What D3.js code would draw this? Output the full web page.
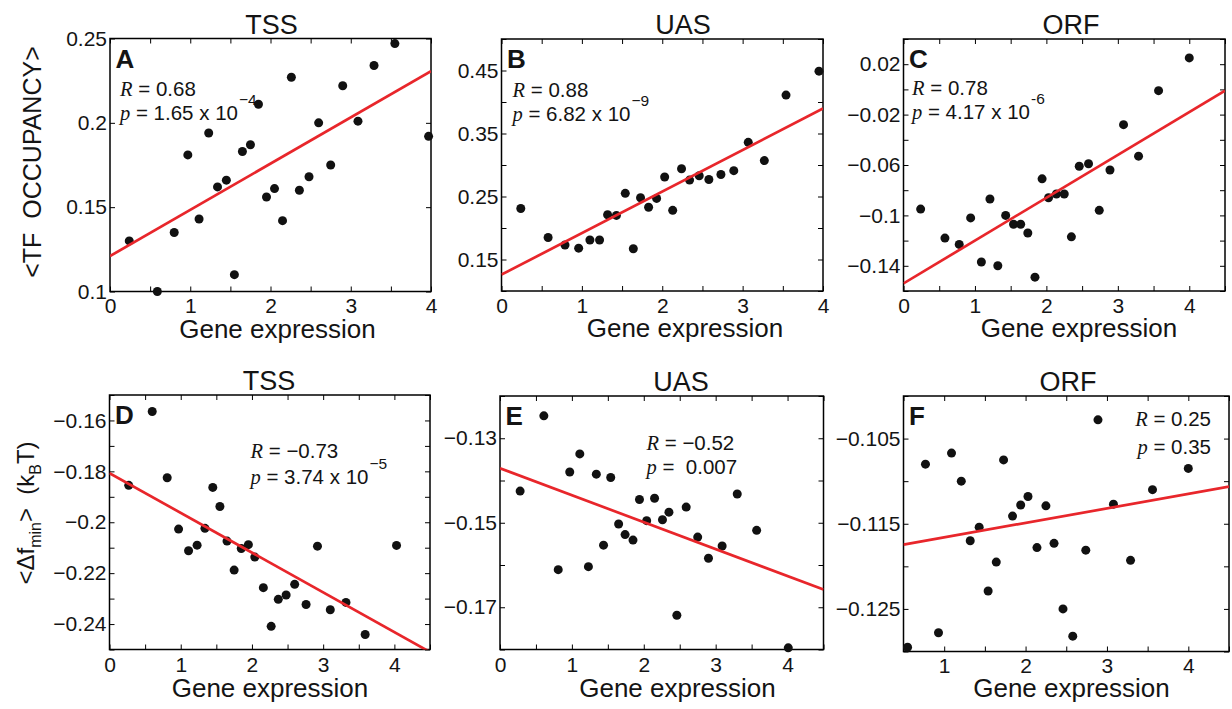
<!DOCTYPE html>
<html>
<head>
<meta charset="utf-8">
<script src="https://cdn.jsdelivr.net/npm/d3@7"></script>
<style>
  body { margin: 0; background: #fff; }
  text { font-family: "Liberation Sans", Arial, Helvetica, sans-serif; fill: #141414; }
</style>
</head>
<body>
<div id="chart"></div>
<script>
// gene expression (x) and response (y) for each panel
const occTssX = [0.24, 0.59, 0.8, 0.97, 1.11, 1.23, 1.34, 1.45, 1.55, 1.65, 1.75, 1.85, 1.95, 2.05, 2.15, 2.26, 2.36, 2.48, 2.6, 2.75, 2.9, 3.09, 3.29, 3.55, 3.97];
const occTssY = [0.130, 0.100, 0.135, 0.181, 0.143, 0.194, 0.162, 0.166, 0.110, 0.183, 0.187, 0.211, 0.156, 0.161, 0.142, 0.227, 0.160, 0.168, 0.200, 0.175, 0.222, 0.201, 0.234, 0.247, 0.192];

const occUasX = [0.24, 0.58, 0.79, 0.96, 1.1, 1.22, 1.32, 1.43, 1.54, 1.64, 1.73, 1.83, 1.93, 2.03, 2.13, 2.24, 2.34, 2.46, 2.58, 2.73, 2.89, 3.07, 3.27, 3.54, 3.95];
const occUasY = [0.231, 0.185, 0.173, 0.168, 0.181, 0.181, 0.221, 0.220, 0.255, 0.167, 0.248, 0.233, 0.247, 0.281, 0.228, 0.294, 0.276, 0.283, 0.277, 0.285, 0.291, 0.336, 0.307, 0.411, 0.449];

const occOrfX = [0.24, 0.58, 0.78, 0.94, 1.09, 1.21, 1.32, 1.43, 1.54, 1.64, 1.74, 1.84, 1.94, 2.03, 2.14, 2.25, 2.35, 2.46, 2.59, 2.74, 2.89, 3.08, 3.29, 3.57, 4.0];
const occOrfY = [-0.095, -0.118, -0.123, -0.102, -0.137, -0.087, -0.140, -0.100, -0.107, -0.107, -0.114, -0.149, -0.071, -0.086, -0.083, -0.083, -0.117, -0.061, -0.059, -0.096, -0.064, -0.028, -0.053, -0.001, 0.025];

const dfTssX = [0.27, 0.6, 0.81, 0.97, 1.11, 1.23, 1.34, 1.45, 1.55, 1.65, 1.75, 1.85, 1.95, 2.04, 2.16, 2.27, 2.37, 2.48, 2.6, 2.76, 2.92, 3.1, 3.32, 3.59, 4.03];
const dfTssY = [-0.1855, -0.1565, -0.1825, -0.2027, -0.2112, -0.209, -0.2024, -0.1863, -0.1938, -0.2074, -0.2188, -0.2103, -0.2088, -0.2137, -0.2257, -0.2409, -0.2303, -0.2286, -0.2244, -0.2323, -0.2094, -0.2344, -0.2315, -0.2441, -0.2091];

const dfUasX = [0.28, 0.61, 0.81, 0.97, 1.11, 1.23, 1.34, 1.44, 1.54, 1.65, 1.74, 1.85, 1.94, 2.04, 2.15, 2.26, 2.35, 2.46, 2.59, 2.75, 2.9, 3.09, 3.3, 3.57, 4.01];
const dfUasY = [-0.1425, -0.1247, -0.1611, -0.138, -0.1337, -0.1604, -0.1385, -0.1553, -0.1393, -0.1503, -0.1528, -0.1541, -0.1445, -0.1495, -0.1442, -0.1493, -0.1475, -0.1719, -0.1463, -0.1534, -0.1584, -0.1555, -0.1432, -0.1518, -0.1796];

const dfOrfX = [0.55, 0.77, 0.93, 1.09, 1.21, 1.32, 1.43, 1.54, 1.64, 1.73, 1.84, 1.94, 2.03, 2.14, 2.25, 2.35, 2.46, 2.58, 2.74, 2.89, 3.08, 3.29, 3.56, 4.0];
const dfOrfY = [-0.1295, -0.108, -0.1278, -0.1067, -0.11, -0.117, -0.1154, -0.1229, -0.1195, -0.1075, -0.1141, -0.1128, -0.1118, -0.1178, -0.1129, -0.1173, -0.125, -0.1282, -0.1181, -0.1028, -0.1127, -0.1193, -0.111, -0.1085];

// regression lines (intercept, slope) A..F
const fitIntercept = [0.121, 0.126, -0.154, -0.1807, -0.1371, -0.1183];
const fitSlope = [0.0274, 0.0659, 0.034, -0.01562, -0.00638, 0.0017];

// stats text A..F
const rText = ["0.68", "0.88", "0.78", "\u22120.73", "\u22120.52", "0.25"];
const pText = ["1.65 x 10", "6.82 x 10", "4.17 x 10", "3.74 x 10", "\u00a00.007", "0.35"];
const pExp = ["\u22124", "\u22129", "-6", "\u22125", "", ""];

// axis ticks
const yTicksA = [0.1, 0.15, 0.2, 0.25];
const yLabelsA = [0.1, 0.15, 0.2, 0.25];
const yLabelsB = [0.15, 0.25, 0.35, 0.45];
const yLabelsC = [0.02, -0.02, -0.06, -0.1, -0.14];
const yLabelsD = [-0.16, -0.18, -0.2, -0.22, -0.24];
const yLabelsE = [-0.13, -0.15, -0.17];
const yLabelsF = [-0.105, -0.115, -0.125];

const width = 1232;
const height = 709;

const panels = [
  { letter: "A", title: "TSS", xs: occTssX, ys: occTssY, box: [110, 38.5, 431, 291.5],
    xDomain: [0, 4], yDomain: [0.1, 0.25], yStep: null, yTicks: yTicksA, yLabels: yLabelsA,
    titleX: 271.5, xLabelX: 277.5, xPad: 7, xLabelDy: 46, stats: { x: 120, y: 96, gap: 24, anchor: "start" } },
  { letter: "B", title: "UAS", xs: occUasX, ys: occUasY, box: [501.5, 39, 823, 291],
    xDomain: [0, 4], yDomain: [0.1, 0.5], yStep: 0.05, yLabels: yLabelsB,
    titleX: 683, xLabelX: 685, xPad: 7, xLabelDy: 46, stats: { x: 512.5, y: 96.5, gap: 24, anchor: "start" } },
  { letter: "C", title: "ORF", xs: occOrfX, ys: occOrfY, box: [903.5, 39, 1225, 291],
    xDomain: [0, 4.5], yDomain: [-0.16, 0.04], yStep: 0.02, yLabels: yLabelsC,
    titleX: 1071, xLabelX: 1079, xPad: 7, xLabelDy: 46, stats: { x: 912, y: 95, gap: 23.5, anchor: "start" } },
  { letter: "D", title: "TSS", xs: dfTssX, ys: dfTssY, box: [109.5, 395, 430, 649.5],
    xDomain: [0, 4.5], yDomain: [-0.25, -0.15], yStep: 0.01, yLabels: yLabelsD,
    titleX: 269, xLabelX: 270, xPad: 8, xLabelDy: 47.5, stats: { x: 250.5, y: 457.5, gap: 26.5, anchor: "start" } },
  { letter: "E", title: "UAS", xs: dfUasX, ys: dfUasY, box: [500, 396, 823.5, 649.5],
    xDomain: [0, 4.5], yDomain: [-0.18, -0.12], yStep: 0.01, yLabels: yLabelsE,
    titleX: 681, xLabelX: 677.5, xPad: 8, xLabelDy: 47.5, stats: { x: 646.5, y: 449.5, gap: 24, anchor: "start" } },
  { letter: "F", title: "ORF", xs: dfOrfX, ys: dfOrfY, box: [903.5, 396, 1229, 651.5],
    xDomain: [0.5, 4.5], yDomain: [-0.13, -0.1], yStep: 0.005, yLabels: yLabelsF,
    titleX: 1068, xLabelX: 1071.5, xPad: 7, xLabelDy: 45.5, stats: { x: 1211, y: 426, gap: 27.5, anchor: "end" } },
];

const red = "#e8262b";
const serif = "'Liberation Serif', 'Times New Roman', serif";

const svg = d3
  .select("#chart")
  .append("svg")
  .attr("width", width)
  .attr("height", height);

const fmt = (v) => String(+v.toFixed(4)).replace("-", "\u2212");
const near = (list, v) => list.some((d) => Math.abs(d - v) < 1e-9);

panels.forEach((p, i) => renderPanel(p, i));

function renderPanel(p, i) {
  const [left, top, right, bottom] = p.box;
  const x = d3.scaleLinear().domain(p.xDomain).range([left, right]);
  const y = d3.scaleLinear().domain(p.yDomain).range([bottom, top]);

  const g = svg.append("g").attr("class", "panel-" + p.letter);

  const clipId = "clip-" + p.letter;
  g.append("clipPath")
    .attr("id", clipId)
    .append("rect")
    .attr("x", left)
    .attr("y", top)
    .attr("width", right - left)
    .attr("height", bottom - top);

  const xTicks = d3.range(p.xDomain[0], p.xDomain[1] + 1e-9, 0.5);
  const yTicks = p.yTicks || d3.range(p.yDomain[0], p.yDomain[1] + 1e-9, p.yStep).map((v) => +v.toFixed(4));

  const styleAxis = (sel) => {
    sel.select(".domain").remove();
    sel.selectAll(".tick line").attr("stroke", "#000").attr("stroke-width", 1);
    sel.attr("font-size", 21).attr("font-family", null);
  };

  g.append("g")
    .attr("transform", `translate(0,${bottom})`)
    .call(
      d3.axisBottom(x)
        .tickValues(xTicks)
        .tickSize(-5)
        .tickPadding(p.xPad)
        .tickFormat((v) => (Number.isInteger(v) ? fmt(v) : ""))
    )
    .call(styleAxis);

  g.append("g")
    .attr("transform", `translate(0,${top})`)
    .call(d3.axisTop(x).tickValues(xTicks).tickSize(-5).tickFormat(""))
    .call(styleAxis);

  g.append("g")
    .attr("transform", `translate(${left},0)`)
    .call(
      d3.axisLeft(y)
        .tickValues(yTicks)
        .tickSize(-5)
        .tickPadding(3)
        .tickFormat((v) => (near(p.yLabels, v) ? fmt(v) : ""))
    )
    .call(styleAxis);

  g.append("g")
    .attr("transform", `translate(${right},0)`)
    .call(d3.axisRight(y).tickValues(yTicks).tickSize(-5).tickFormat(""))
    .call(styleAxis);

  g.append("rect")
    .attr("x", left)
    .attr("y", top)
    .attr("width", right - left)
    .attr("height", bottom - top)
    .attr("fill", "none")
    .attr("stroke", "#000")
    .attr("stroke-width", 1.5);

  // data points
  g.append("g")
    .selectAll("circle")
    .data(p.xs.map((v, k) => [v, p.ys[k]]))
    .join("circle")
    .attr("cx", (d) => x(d[0]))
    .attr("cy", (d) => y(d[1]))
    .attr("r", 4.5)
    .attr("fill", "#111");

  // fit line
  const [x0, x1] = p.xDomain;
  g.append("line")
    .attr("clip-path", `url(#${clipId})`)
    .attr("x1", x(x0))
    .attr("y1", y(fitIntercept[i] + fitSlope[i] * x0))
    .attr("x2", x(x1))
    .attr("y2", y(fitIntercept[i] + fitSlope[i] * x1))
    .attr("stroke", red)
    .attr("stroke-width", 2.7);

  // panel letter
  g.append("text")
    .attr("x", left + 5.5)
    .attr("y", top + 29)
    .attr("font-size", 26)
    .attr("font-weight", "bold")
    .text(p.letter);

  // title and x label
  g.append("text")
    .attr("x", p.titleX)
    .attr("y", top - 5)
    .attr("text-anchor", "middle")
    .attr("font-size", 27)
    .text(p.title);

  g.append("text")
    .attr("x", p.xLabelX)
    .attr("y", bottom + p.xLabelDy)
    .attr("text-anchor", "middle")
    .attr("font-size", 26)
    .text("Gene expression");

  // stats
  const s = p.stats;
  const rLine = g.append("text")
    .attr("x", s.x)
    .attr("y", s.y)
    .attr("font-size", 20.5)
    .attr("text-anchor", s.anchor);
  rLine.append("tspan").attr("font-family", serif).attr("font-style", "italic").text("R");
  rLine.append("tspan").text(" = " + rText[i]);

  const pLine = g.append("text")
    .attr("x", s.x)
    .attr("y", s.y + s.gap)
    .attr("font-size", 20.5)
    .attr("text-anchor", s.anchor);
  pLine.append("tspan").attr("font-family", serif).attr("font-style", "italic").text("p");
  pLine.append("tspan").text(" = " + pText[i]);
  if (pExp[i]) {
    pLine.append("tspan")
      .attr("dy", -15)
      .attr("dx", 1)
      .attr("font-size", 15.5)
      .text(pExp[i]);
  }
}

// y axis labels
svg.append("text")
  .attr("transform", "translate(41,162) rotate(-90)")
  .attr("text-anchor", "middle")
  .attr("font-size", 25)
  .text("<TF\u00a0\u00a0OCCUPANCY>");

const yLab2 = svg.append("text")
  .attr("transform", "translate(34,513) rotate(-90)")
  .attr("text-anchor", "middle")
  .attr("font-size", 24);
yLab2.append("tspan").text("<\u0394f");
yLab2.append("tspan").attr("font-size", 16).attr("dy", 7).text("min");
yLab2.append("tspan").attr("dy", -7).text(">\u00a0\u00a0(k");
yLab2.append("tspan").attr("font-size", 16).attr("dy", 7).text("B");
yLab2.append("tspan").attr("dy", -7).text("T)");
</script>
</body>
</html>
